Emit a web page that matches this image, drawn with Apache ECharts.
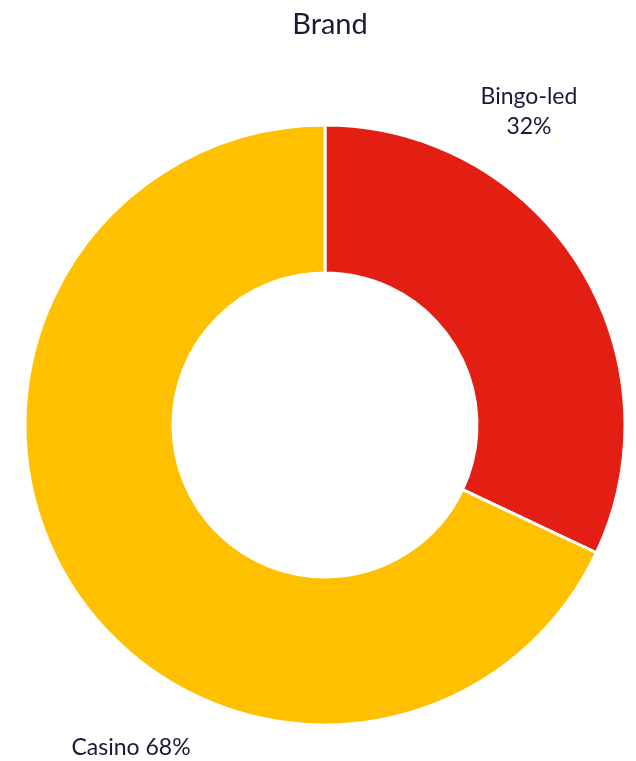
<!DOCTYPE html>
<html><head><meta charset="utf-8">
<script src="https://cdn.jsdelivr.net/npm/echarts@6/dist/echarts.min.js"></script>
<style>html,body{margin:0;padding:0;background:#fff}#c{width:636px;height:761px}</style>
</head><body><div id="c"></div>
<script>
const categories = ['Bingo-led', 'Casino'];
const values = [32, 68];
const colors = ['#E31F13', '#FFC000'];
const labelPos = [[529, 112], [131, 748]];
const chart = echarts.init(document.getElementById('c'));
chart.setOption({
  animation: false,
  title: {text: 'Brand', left: 325, textAlign: 'center', top: 5, textStyle: {fontFamily: 'Lato', fontSize: 29, fontWeight: 'normal', color: '#1C1838'}},
  series: [{
    type: 'pie', center: [325, 425], radius: [152, 300], startAngle: 90, clockwise: true,
    itemStyle: {borderColor: '#fff', borderWidth: 3},
    labelLine: {show: false},
    label: {show: true, position: 'inside', fontFamily: 'Lato', fontSize: 23, color: '#1C1838', lineHeight: 30, align: 'center',
      formatter: p => p.dataIndex === 0 ? p.name + '\n' + p.value + '%' : p.name + ' ' + p.value + '%'},
    labelLayout: p => ({x: labelPos[p.dataIndex][0], y: labelPos[p.dataIndex][1], align: 'center', verticalAlign: 'middle'}),
    data: categories.map((c, i) => ({name: c, value: values[i], itemStyle: {color: colors[i]}}))
  }]
});
</script></body></html>
